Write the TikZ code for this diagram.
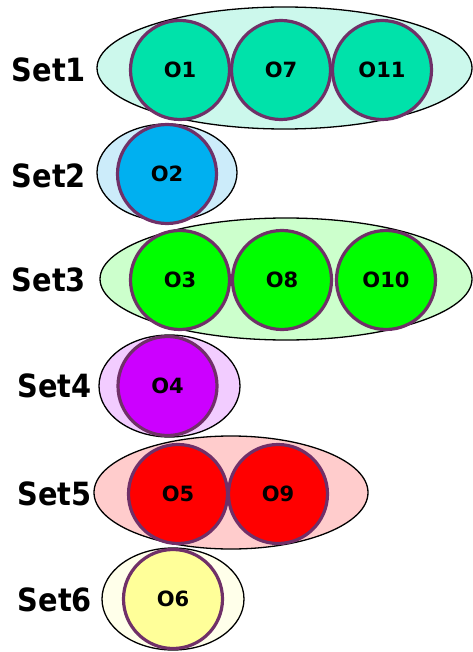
\documentclass[tikz,border=0pt]{standalone}
\usepackage{fontspec}
\usetikzlibrary{shapes.geometric}
\newfontfamily\setlabelfont{DejaVu Sans}[FakeStretch=0.9]
\newfontfamily\objlabelfont{DejaVu Sans}

\definecolor{ringcol}{RGB}{112,48,104}
\definecolor{setAfill}{RGB}{204,248,236}
\definecolor{objAfill}{RGB}{0,226,170}
\definecolor{setBfill}{RGB}{204,236,250}
\definecolor{objBfill}{RGB}{0,176,240}
\definecolor{setCfill}{RGB}{204,255,204}
\definecolor{objCfill}{RGB}{0,255,0}
\definecolor{setDfill}{RGB}{242,204,255}
\definecolor{objDfill}{RGB}{204,0,255}
\definecolor{setEfill}{RGB}{255,204,204}
\definecolor{objEfill}{RGB}{255,0,0}
\definecolor{setFfill}{RGB}{255,255,234}
\definecolor{objFfill}{RGB}{255,255,153}

\tikzset{
  setellipse/.style 2 args={ellipse, draw=black, line width=1.3pt, fill=#1,
    inner sep=0pt, minimum width=#2},
  objcircle/.style={circle, draw=ringcol, line width=3.2pt, fill=#1,
    inner sep=0pt, minimum size=99pt,
    font=\objlabelfont\bfseries\fontsize{21}{21}\selectfont},
  setlabel/.style={inner sep=0pt, font=\setlabelfont\bfseries\fontsize{32}{32}\selectfont}
}

\begin{document}
\begin{tikzpicture}[x=1pt, y=-1pt]
\useasboundingbox (0,0) rectangle (472,652);

% Set1
\node[setellipse={setAfill}{375pt}, minimum height=122pt] (e1) at (284.5,68) {};
\node[objcircle=objAfill] (o1) at (180,70) {O1};
\node[objcircle=objAfill] (o7) at (281,70) {O7};
\node[objcircle=objAfill] (o11) at (382,70) {O11};
\node[setlabel] (s1) at (49,70) {Set1};

% Set2
\node[setellipse={setBfill}{140pt}, minimum height=97pt] (e2) at (167,172.5) {};
\node[objcircle=objBfill] (o2) at (167,174) {O2};
\node[setlabel] (s2) at (49,176) {Set2};

% Set3
\node[setellipse={setCfill}{372pt}, minimum height=122pt] (e3) at (286,279) {};
\node[objcircle=objCfill] (o3) at (180,280) {O3};
\node[objcircle=objCfill] (o8) at (282,280) {O8};
\node[objcircle=objCfill] (o10) at (386,280) {O10};
\node[setlabel] (s3) at (49,280) {Set3};

% Set4
\node[setellipse={setDfill}{141pt}, minimum height=102pt] (e4) at (169.5,386) {};
\node[objcircle=objDfill] (o4) at (167.5,386) {O4};
\node[setlabel] (s4) at (54.5,386) {Set4};

% Set5
\node[setellipse={setEfill}{274pt}, minimum height=113pt] (e5) at (231,492.5) {};
\node[objcircle=objEfill] (o5) at (178,494) {O5};
\node[objcircle=objEfill] (o9) at (278,494) {O9};
\node[setlabel] (s5) at (54.5,494) {Set5};

% Set6
\node[setellipse={setFfill}{142pt}, minimum height=102pt] (e6) at (173,599) {};
\node[objcircle=objFfill] (o6) at (173,599) {O6};
\node[setlabel] (s6) at (55,600) {Set6};
\end{tikzpicture}
\end{document}
